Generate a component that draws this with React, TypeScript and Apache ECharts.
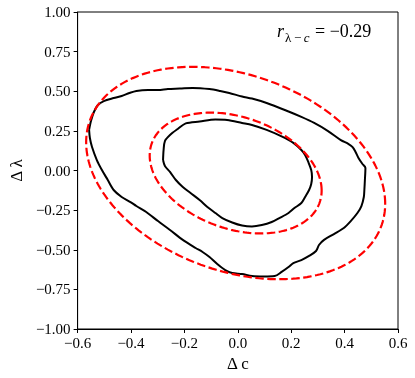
import React, { useEffect, useRef } from "react";
import * as echarts from "echarts";

// Axis ticks
const xTicks = [-0.6, -0.4, -0.2, 0.0, 0.2, 0.4, 0.6];
const yTicks = [-1.0, -0.75, -0.5, -0.25, 0.0, 0.25, 0.5, 0.75, 1.0];

// Black contours (Δc, Δλ)
const outerContour: [number, number][] = [
  [-0.557, 0.256], [-0.55, 0.312], [-0.539, 0.369], [-0.524, 0.413], [-0.502, 0.438],
  [-0.465, 0.457], [-0.435, 0.47], [-0.406, 0.489], [-0.38, 0.502], [-0.336, 0.508],
  [-0.299, 0.508], [-0.262, 0.514], [-0.217, 0.517], [-0.169, 0.521], [-0.106, 0.514],
  [-0.066, 0.502], [-0.032, 0.489], [0.016, 0.467], [0.053, 0.454], [0.108, 0.426],
  [0.19, 0.372], [0.238, 0.338], [0.286, 0.3], [0.338, 0.249], [0.386, 0.192],
  [0.415, 0.167], [0.43, 0.148], [0.441, 0.117], [0.452, 0.079], [0.467, 0.041],
  [0.478, 0.016], [0.476, -0.06], [0.474, -0.123], [0.472, -0.167], [0.463, -0.224],
  [0.448, -0.268], [0.423, -0.319], [0.397, -0.363], [0.36, -0.401], [0.323, -0.438],
  [0.304, -0.47], [0.293, -0.508], [0.267, -0.539], [0.238, -0.565], [0.208, -0.584],
  [0.19, -0.609], [0.164, -0.64], [0.138, -0.666], [0.097, -0.669], [0.053, -0.666],
  [0.016, -0.653], [-0.021, -0.647], [-0.047, -0.628], [-0.077, -0.59], [-0.106, -0.546],
  [-0.132, -0.514], [-0.158, -0.489], [-0.206, -0.438], [-0.254, -0.375], [-0.299, -0.319],
  [-0.343, -0.262], [-0.38, -0.224], [-0.402, -0.199], [-0.435, -0.167], [-0.465, -0.123],
  [-0.487, -0.06], [-0.509, 0.003], [-0.528, 0.066], [-0.546, 0.148], [-0.554, 0.205],
];

const innerContour: [number, number][] = [
  [-0.28, 0.066], [-0.278, 0.129], [-0.273, 0.186], [-0.254, 0.224], [-0.225, 0.262],
  [-0.195, 0.297], [-0.143, 0.309], [-0.084, 0.322], [-0.04, 0.319], [0.016, 0.3],
  [0.053, 0.287], [0.108, 0.256], [0.164, 0.215], [0.208, 0.174], [0.238, 0.129],
  [0.252, 0.098], [0.264, 0.054], [0.275, 0.003], [0.278, -0.041], [0.275, -0.085],
  [0.267, -0.123], [0.252, -0.167], [0.238, -0.205], [0.212, -0.237], [0.19, -0.268],
  [0.156, -0.3], [0.127, -0.325], [0.09, -0.344], [0.053, -0.353], [0.016, -0.347],
  [-0.021, -0.328], [-0.058, -0.3], [-0.084, -0.268], [-0.114, -0.23], [-0.143, -0.186],
  [-0.177, -0.142], [-0.206, -0.104], [-0.232, -0.06], [-0.254, -0.009], [-0.273, 0.028],
];

// Forecast ellipses (red dashed): centre, half extents per level, correlation
const ellipseCenter = [-0.008, -0.016];
const ellipseHalfWidths = [0.322, 0.56];
const ellipseHalfHeights = [0.381, 0.67];
const correlation = -0.29;

const FONT = "'Liberation Serif', 'DejaVu Serif', serif";

function closeLoop(pts: [number, number][]) {
  return [...pts, pts[0]];
}

function ellipsePoints(ax: number, ay: number): [number, number][] {
  const out: [number, number][] = [];
  const s = Math.sqrt(1 - correlation * correlation);
  for (let i = 0; i <= 240; i++) {
    const t = (i / 240) * Math.PI * 2;
    out.push([
      ellipseCenter[0] + ax * Math.cos(t),
      ellipseCenter[1] + ay * (correlation * Math.cos(t) + s * Math.sin(t)),
    ]);
  }
  return out;
}

function fmt(v: number, d: number) {
  if (Math.abs(v) < 1e-9) v = 0;
  return v.toFixed(d).replace("-", "\u2212");
}

export default function App() {
  const ref = useRef<HTMLDivElement>(null);
  useEffect(() => {
    document.body.style.margin = "0";
    const chart = echarts.init(ref.current!, undefined, { renderer: "svg" });
    const axisCommon = {
      type: "value" as const,
      axisLine: { show: true, onZero: false, lineStyle: { color: "#000", width: 1 } },
      axisTick: { show: true, length: 4, lineStyle: { color: "#000", width: 1 } },
      splitLine: { show: false },
      nameTextStyle: { fontFamily: FONT, fontSize: 17, color: "#000" },
    };
    chart.setOption({
      animation: false,
      grid: {
        left: 73,
        right: 17,
        top: 12,
        bottom: 49,
        show: true,
        borderColor: "#000",
        borderWidth: 1,
      },
      xAxis: {
        ...axisCommon,
        min: xTicks[0],
        max: xTicks[xTicks.length - 1],
        interval: 0.2,
        name: "\u0394 c",
        nameLocation: "middle",
        nameGap: 26,
        axisLabel: {
          fontFamily: FONT,
          fontSize: 15,
          color: "#000",
          margin: 6,
          showMinLabel: true,
          showMaxLabel: true,
          formatter: (v: number) => fmt(v, 1),
        },
      },
      yAxis: {
        ...axisCommon,
        min: yTicks[0],
        max: yTicks[yTicks.length - 1],
        interval: 0.25,
        name: "\u0394 \u03bb",
        nameLocation: "middle",
        nameGap: 52,
        axisLabel: {
          fontFamily: FONT,
          fontSize: 15,
          color: "#000",
          margin: 7,
          showMinLabel: true,
          showMaxLabel: true,
          formatter: (v: number) => fmt(v, 2),
        },
      },
      series: [
        {
          type: "line",
          data: closeLoop(outerContour),
          showSymbol: false,
          smooth: 0.3,
          lineStyle: { color: "#000", width: 2 },
          silent: true,
        },
        {
          type: "line",
          data: closeLoop(innerContour),
          showSymbol: false,
          smooth: 0.3,
          lineStyle: { color: "#000", width: 2 },
          silent: true,
        },
        ...ellipseHalfWidths.map((ax, i) => ({
          type: "line",
          data: ellipsePoints(ax, ellipseHalfHeights[i]),
          showSymbol: false,
          lineStyle: { color: "#ff0000", width: 2.2, type: [8.5, 3.5] },
          silent: true,
        })),
      ],
      graphic: [
        {
          type: "text",
          x: 277,
          y: 31,
          style: {
            text: "r",
            font: `italic 18px ${FONT}`,
            fill: "#000",
            verticalAlign: "middle",
          },
        },
        {
          type: "text",
          x: 285,
          y: 37,
          style: {
            text: "{u|\u03bb\u2009\u2212\u2009}{i|c}",
            fill: "#000",
            verticalAlign: "middle",
            rich: {
              u: { fontFamily: FONT, fontSize: 13, fill: "#000" },
              i: { fontFamily: FONT, fontSize: 13, fontStyle: "italic", fill: "#000" },
            },
          },
        },
        {
          type: "text",
          x: 315,
          y: 31,
          style: {
            text: "= \u22120.29",
            font: `18px ${FONT}`,
            fill: "#000",
            verticalAlign: "middle",
          },
        },
      ],
    });
    return () => chart.dispose();
  }, []);
  return (
    <div
      ref={ref}
      style={{ position: "fixed", left: 0, top: 0, width: 415, height: 378 }}
    />
  );
}
